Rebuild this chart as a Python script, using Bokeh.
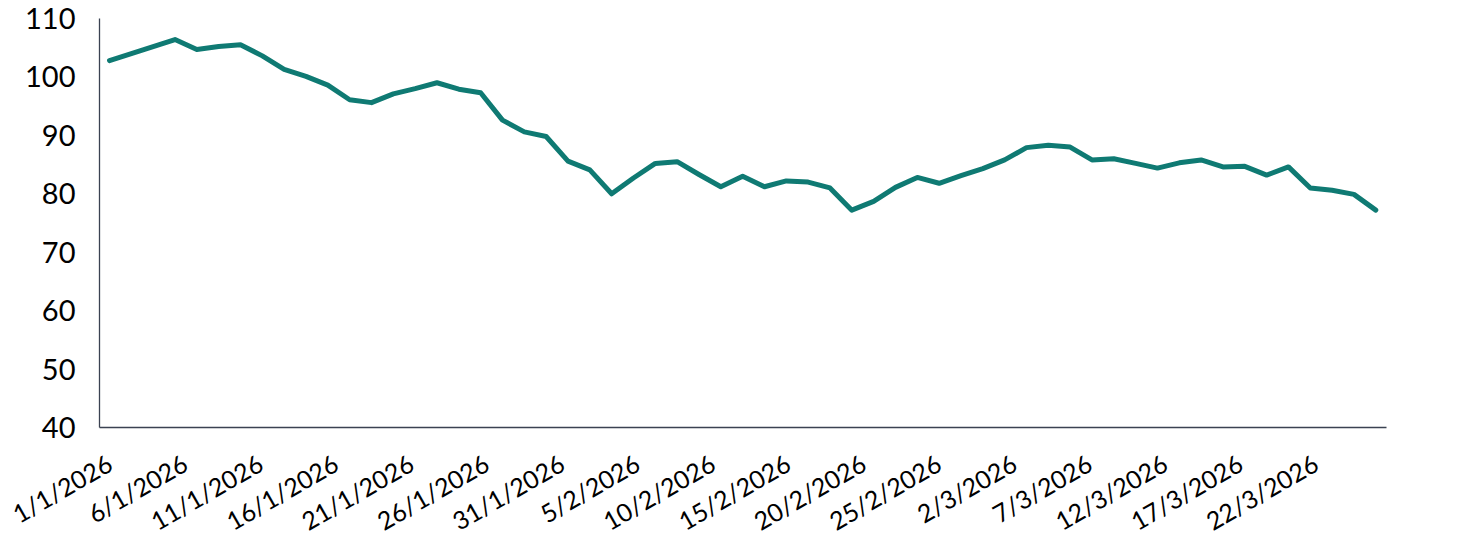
import math
import numpy as np
from bokeh.plotting import figure
from bokeh.models import FixedTicker, Range1d, ColumnDataSource
from bokeh.embed import file_html
from bokeh.resources import INLINE

# ---- data ----
values = [102.8, 104.0, 105.2, 106.4, 104.7, 105.2, 105.5, 103.6, 101.3, 100.1,
          98.6, 96.1, 95.6, 97.1, 98.0, 99.0, 97.9, 97.3, 92.6, 90.6,
          89.8, 85.6, 84.1, 80.0, 82.7, 85.2, 85.5, 83.3, 81.2, 83.0,
          81.2, 82.2, 82.0, 81.0, 77.2, 78.7, 81.1, 82.8, 81.8, 83.1,
          84.3, 85.8, 87.9, 88.3, 88.0, 85.8, 86.0, 85.2, 84.4, 85.3,
          85.8, 84.6, 84.7, 83.2, 84.6, 81.0, 80.6, 79.9, 77.2]
span_days = 84  # 1/1/2026 .. 26/3/2026
tick_labels = ["1/1/2026", "6/1/2026", "11/1/2026", "16/1/2026", "21/1/2026",
               "26/1/2026", "31/1/2026", "5/2/2026", "10/2/2026", "15/2/2026",
               "20/2/2026", "25/2/2026", "2/3/2026", "7/3/2026", "12/3/2026",
               "17/3/2026", "22/3/2026"]
tick_step_days = 5
y_ticks = [40, 50, 60, 70, 80, 90, 100, 110]

# days since 1/1/2026 for each observation (evenly spaced over the period)
days = np.linspace(0, span_days, len(values))
tick_days = [i * tick_step_days for i in range(len(tick_labels))]

FONT = "Lato"
LINE_COLOR = "#0f7a73"
AXIS_COLOR = "#3b4252"

p = figure(frame_width=1287, frame_height=409, output_backend="svg",
           toolbar_location=None,
           x_range=Range1d(-0.663, 84.71), y_range=Range1d(40, 110),
           min_border_left=99, min_border_right=76, min_border_top=18,
           min_border_bottom=103)
p.outline_line_color = None
p.grid.grid_line_color = None
p.background_fill_color = "white"
p.border_fill_color = "white"

src = ColumnDataSource(dict(x=days, y=values))
p.line("x", "y", source=src, line_color=LINE_COLOR, line_width=5,
       line_cap="round", line_join="round")

# y axis
ya = p.yaxis[0]
ya.ticker = FixedTicker(ticks=y_ticks)
ya.major_tick_line_color = None
ya.minor_tick_line_color = None
ya.axis_line_color = AXIS_COLOR
ya.axis_line_width = 1.3
ya.major_label_text_font = FONT
ya.major_label_text_font_size = "29px"
ya.major_label_text_color = "black"
ya.major_label_standoff = 18

# x axis
xa = p.xaxis[0]
xa.ticker = FixedTicker(ticks=tick_days)
xa.major_label_overrides = {d: lab for d, lab in zip(tick_days, tick_labels)}
xa.major_tick_line_color = None
xa.minor_tick_line_color = None
xa.axis_line_color = AXIS_COLOR
xa.axis_line_width = 1.3
xa.major_label_text_font = FONT
xa.major_label_text_font_size = "25px"
xa.major_label_text_color = "black"
xa.major_label_orientation = math.radians(30)
xa.major_label_standoff = 27

open("out.html", "w").write(file_html(p, INLINE))
